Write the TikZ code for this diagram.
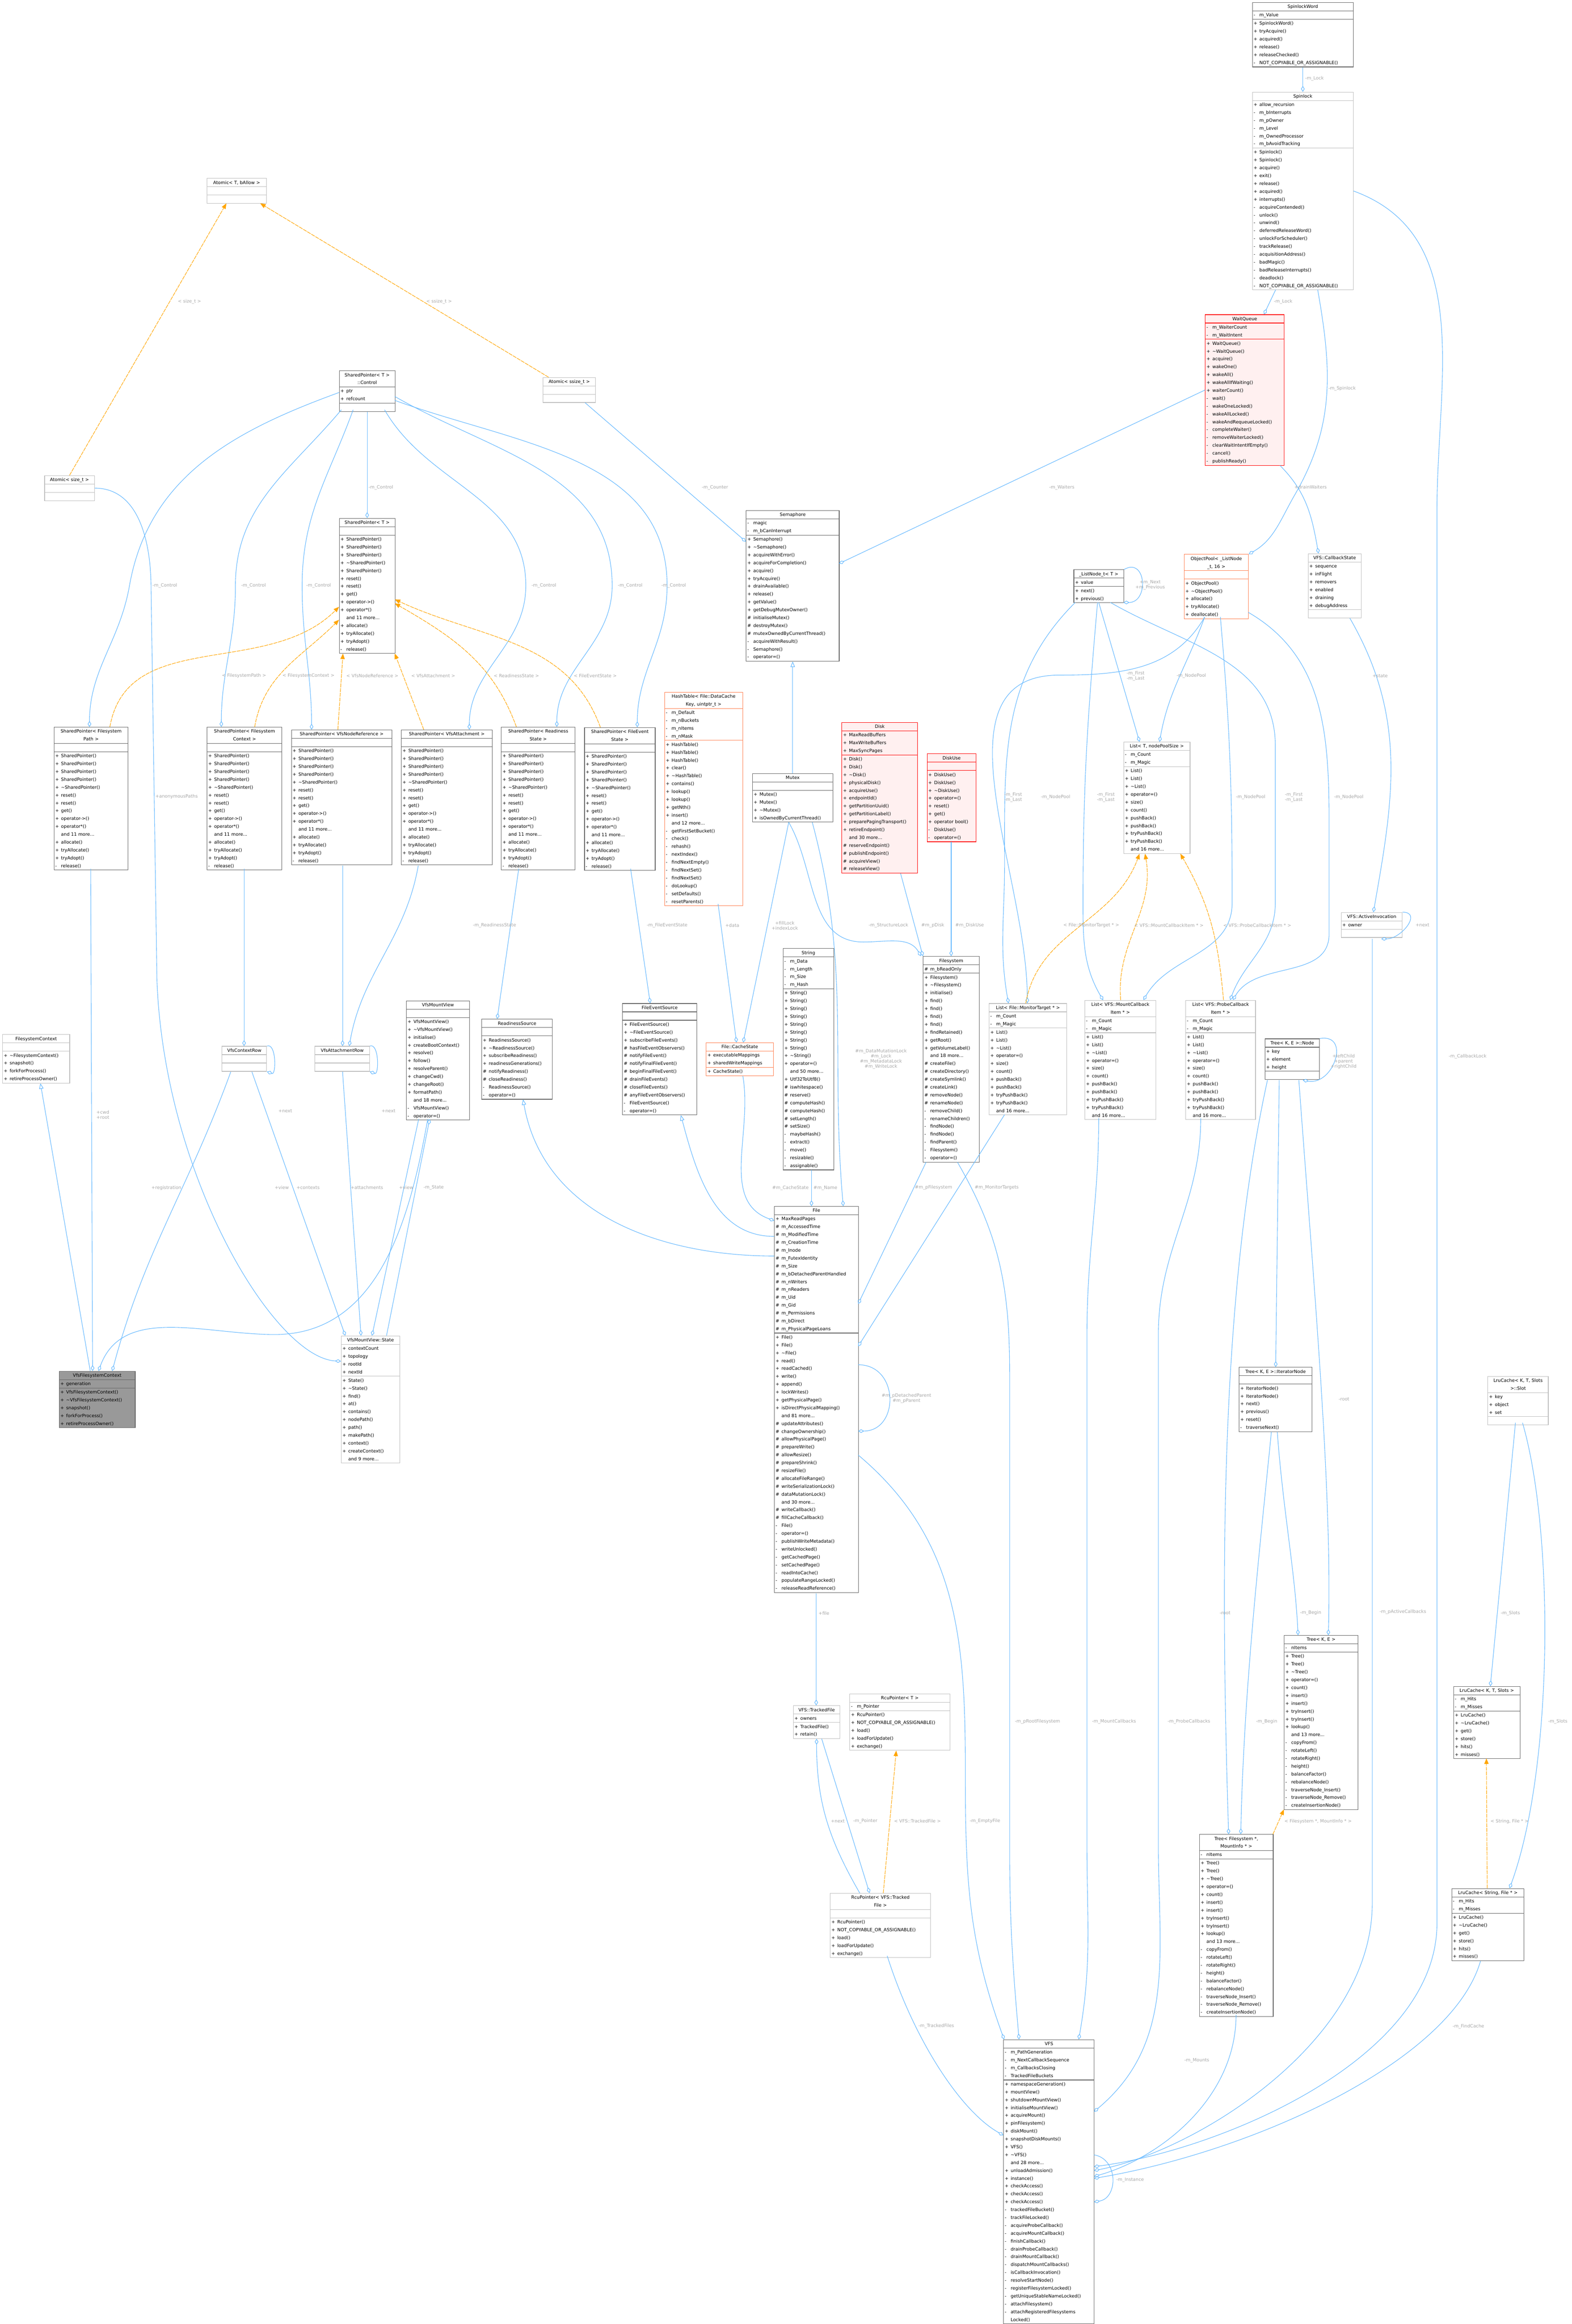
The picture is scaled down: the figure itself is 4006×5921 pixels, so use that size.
\documentclass[tikz,border=0pt]{standalone}
\usepackage{fontspec}
\setmainfont{DejaVu Sans}
\usetikzlibrary{shapes.multipart,arrows.meta,calc}
\definecolor{eb}{HTML}{63B8FF}
\definecolor{eo}{HTML}{FFA500}
\definecolor{lg}{HTML}{A8A8A8}
\definecolor{dk}{HTML}{666666}
\definecolor{lt}{HTML}{BFBFBF}
\definecolor{rf}{HTML}{FFF0F0}
\definecolor{oc}{HTML}{FF7F50}
\definecolor{gf}{HTML}{999999}
\newcommand\boxfont{\fontsize{11.5}{0}\selectfont\lineskip=0pt\lineskiplimit=0pt\parskip=0pt}
\newcommand\lblfont{\fontsize{11.5}{13}\selectfont}
\newcommand\rs{\rule[-6pt]{0pt}{20pt}}
\newcommand\mm[2]{\rs\makebox[15pt][l]{#1}#2\par}
\newcommand\tl[1]{\rs\hfill#1\hfill\null\par}
\newcommand\emp{\rs\par}
\newcommand\spm{\mm+{SharedPointer()}\mm+{SharedPointer()}\mm+{SharedPointer()}\mm+{SharedPointer()}\mm+{\textasciitilde SharedPointer()}\mm+{reset()}\mm+{reset()}\mm+{get()}\mm+{operator->()}\mm+{operator*()}\mm{}{and 11 more...}\mm+{allocate()}\mm+{tryAllocate()}\mm+{tryAdopt()}\mm-{release()}}
\newcommand\lsm{\mm+{List()}\mm+{List()}\mm+{\textasciitilde List()}\mm+{operator=()}\mm+{size()}\mm+{count()}\mm+{pushBack()}\mm+{pushBack()}\mm+{tryPushBack()}\mm+{tryPushBack()}\mm{}{and 16 more...}}
\newcommand\trm{\mm+{Tree()}\mm+{Tree()}\mm+{\textasciitilde Tree()}\mm+{operator=()}\mm+{count()}\mm+{insert()}\mm+{insert()}\mm+{tryInsert()}\mm+{tryInsert()}\mm+{lookup()}\mm{}{and 13 more...}\mm-{copyFrom()}\mm-{rotateLeft()}\mm-{rotateRight()}\mm-{height()}\mm-{balanceFactor()}\mm-{rebalanceNode()}\mm-{traverseNode\_Insert()}\mm-{traverseNode\_Remove()}\mm-{createInsertionNode()}}
\newcommand\lrm{\mm-{m\_Hits}\mm-{m\_Misses}\nodepart{three}\mm+{LruCache()}\mm+{\textasciitilde LruCache()}\mm+{get()}\mm+{store()}\mm+{hits()}\mm+{misses()}}
\newcommand\rcm{\mm+{RcuPointer()}\mm+{NOT\_COPYABLE\_OR\_ASSIGNABLE()}\mm+{load()}\mm+{loadForUpdate()}\mm+{exchange()}}
\tikzset{
 cls/.style={rectangle split,rectangle split parts=3,anchor=north west,inner xsep=3pt,inner ysep=0pt,
   text width=#1,align=left,font=\boxfont,line width=1.3pt,fill=white},
 dkb/.style={draw=dk},
 ltb/.style={draw=lt},
 rdb/.style={draw=red,fill=rf},
 orb/.style={draw=oc},
 grb/.style={draw=dk,fill=gf},
 agg/.style={draw=eb,line width=1.3pt,-{Diamond[open,length=15pt,width=9pt]}},
 inh/.style={draw=eb,line width=1.3pt,-{Triangle[open,length=14pt,width=11pt]}},
 tpl/.style={draw=eo,line width=1.3pt,dash pattern=on 10pt off 2pt,-{Triangle[length=14pt,width=11pt,fill=eo]}},
 lbl/.style={font=\lblfont,text=lg,align=center,inner sep=1pt},
}
\begin{document}
\begin{tikzpicture}[x=1pt,y=-1pt]
\useasboundingbox[fill=white] (0,0) rectangle (4006,5921);
% ---------------- classes
\node[cls=251,dkb] (spw) at (3191,6) {\tl{SpinlockWord}\nodepart{two}\mm-{m\_Value}\nodepart{three}\mm+{SpinlockWord()}\mm+{tryAcquire()}\mm+{acquired()}\mm+{release()}\mm+{releaseChecked()}\mm-{NOT\_COPYABLE\_OR\_ASSIGNABLE()}};
\node[cls=251,ltb] (spl) at (3191,234) {\tl{Spinlock}\nodepart{two}\mm+{allow\_recursion}\mm-{m\_bInterrupts}\mm-{m\_pOwner}\mm-{m\_Level}\mm-{m\_OwnedProcessor}\mm-{m\_bAvoidTracking}\nodepart{three}\mm+{Spinlock()}\mm+{Spinlock()}\mm+{acquire()}\mm+{exit()}\mm+{release()}\mm+{acquired()}\mm+{interrupts()}\mm-{acquireContended()}\mm-{unlock()}\mm-{unwind()}\mm-{deferredReleaseWord()}\mm-{unlockForScheduler()}\mm-{trackRelease()}\mm-{acquisitionAddress()}\mm-{badMagic()}\mm-{badReleaseInterrupts()}\mm-{deadlock()}\mm-{NOT\_COPYABLE\_OR\_ASSIGNABLE()}};
\node[cls=195,rdb] (wq) at (3071,801) {\tl{WaitQueue}\nodepart{two}\mm-{m\_WaiterCount}\mm-{m\_WaitIntent}\nodepart{three}\mm+{WaitQueue()}\mm+{\textasciitilde WaitQueue()}\mm+{acquire()}\mm+{wakeOne()}\mm+{wakeAll()}\mm+{wakeAllIfWaiting()}\mm+{waiterCount()}\mm-{wait()}\mm-{wakeOneLocked()}\mm-{wakeAllLocked()}\mm-{wakeAndRequeueLocked()}\mm-{completeWaiter()}\mm-{removeWaiterLocked()}\mm-{clearWaitIntentIfEmpty()}\mm-{cancel()}\mm-{publishReady()}};
\node[cls=145,ltb] (atb) at (527,454) {\tl{Atomic< T, bAllow >}\nodepart{two}\emp\nodepart{three}\emp};
\node[cls=121,ltb] (as) at (113,1211) {\tl{Atomic< size\_t >}\nodepart{two}\emp\nodepart{three}\emp};
\node[cls=128,ltb] (ass) at (1383,961) {\tl{Atomic< ssize\_t >}\nodepart{two}\emp\nodepart{three}\emp};
\node[cls=136,dkb] (ctl) at (864,944) {\tl{SharedPointer< T >}\tl{::Control}\nodepart{two}\mm+{ptr}\mm+{refcount}\nodepart{three}\emp};
\node[cls=136,dkb] (spt) at (864,1320) {\tl{SharedPointer< T >}\nodepart{two}\emp\nodepart{three}\mm+{SharedPointer()}\mm+{SharedPointer()}\mm+{SharedPointer()}\mm+{\textasciitilde SharedPointer()}\mm+{SharedPointer()}\mm+{reset()}\mm+{reset()}\mm+{get()}\mm+{operator->()}\mm+{operator*()}\mm{}{and 11 more...}\mm+{allocate()}\mm+{tryAllocate()}\mm+{tryAdopt()}\mm-{release()}};
\node[cls=183,dkb] (sp1) at (137,1852) {\tl{SharedPointer< Filesystem}\tl{Path >}\nodepart{two}\emp\nodepart{three}\spm};
\node[cls=185,dkb] (sp2) at (527,1852) {\tl{SharedPointer< Filesystem}\tl{Context >}\nodepart{two}\emp\nodepart{three}\spm};
\node[cls=250,dkb] (sp3) at (742,1859) {\tl{SharedPointer< VfsNodeReference >}\nodepart{two}\emp\nodepart{three}\spm};
\node[cls=226,dkb] (sp4) at (1022,1859) {\tl{SharedPointer< VfsAttachment >}\nodepart{two}\emp\nodepart{three}\spm};
\node[cls=182,dkb] (sp5) at (1277,1852) {\tl{SharedPointer< Readiness}\tl{State >}\nodepart{two}\emp\nodepart{three}\spm};
\node[cls=174,dkb] (sp6) at (1489,1853) {\tl{SharedPointer< FileEvent}\tl{State >}\nodepart{two}\emp\nodepart{three}\spm};
\node[cls=231,dkb] (sem) at (1901,1300) {\tl{Semaphore}\nodepart{two}\mm-{magic}\mm-{m\_bCanInterrupt}\nodepart{three}\mm+{Semaphore()}\mm+{\textasciitilde Semaphore()}\mm+{acquireWithError()}\mm+{acquireForCompletion()}\mm+{acquire()}\mm+{tryAcquire()}\mm+{drainAvailable()}\mm+{release()}\mm+{getValue()}\mm+{getDebugMutexOwner()}\mm\#{initialiseMutex()}\mm\#{destroyMutex()}\mm\#{mutexOwnedByCurrentThread()}\mm-{acquireWithResult()}\mm-{Semaphore()}\mm-{operator=()}};
\node[cls=199,dkb] (mtx) at (1917,1970) {\tl{Mutex}\nodepart{two}\emp\nodepart{three}\mm+{Mutex()}\mm+{Mutex()}\mm+{\textasciitilde Mutex()}\mm+{isOwnedByCurrentThread()}};
\node[cls=193,orb] (ht) at (1693,1763) {\tl{HashTable< File::DataCache}\tl{Key, uintptr\_t >}\nodepart{two}\mm-{m\_Default}\mm-{m\_nBuckets}\mm-{m\_nItems}\mm-{m\_nMask}\nodepart{three}\mm+{HashTable()}\mm+{HashTable()}\mm+{HashTable()}\mm+{clear()}\mm+{\textasciitilde HashTable()}\mm+{contains()}\mm+{lookup()}\mm+{lookup()}\mm+{getNth()}\mm+{insert()}\mm{}{and 12 more...}\mm-{getFirstSetBucket()}\mm-{check()}\mm-{rehash()}\mm-{nextIndex()}\mm-{findNextEmpty()}\mm-{findNextSet()}\mm-{findNextSet()}\mm-{doLookup()}\mm-{setDefaults()}\mm-{resetParents()}};
\node[cls=187,rdb] (dsk) at (2145,1840) {\tl{Disk}\nodepart{two}\mm+{MaxReadBuffers}\mm+{MaxWriteBuffers}\mm+{MaxSyncPages}\nodepart{three}\mm+{Disk()}\mm+{Disk()}\mm+{\textasciitilde Disk()}\mm+{physicalDisk()}\mm+{acquireUse()}\mm+{endpointId()}\mm+{getPartitionUuid()}\mm+{getPartitionLabel()}\mm+{preparePagingTransport()}\mm+{retireEndpoint()}\mm{}{and 30 more...}\mm\#{reserveEndpoint()}\mm\#{publishEndpoint()}\mm\#{acquireView()}\mm\#{releaseView()}};
\node[cls=119,rdb] (du) at (2362,1920) {\tl{DiskUse}\nodepart{two}\emp\nodepart{three}\mm+{DiskUse()}\mm+{DiskUse()}\mm+{\textasciitilde DiskUse()}\mm+{operator=()}\mm+{reset()}\mm+{get()}\mm+{operator bool()}\mm-{DiskUse()}\mm-{operator=()}};
\node[cls=121,dkb] (ln) at (2736,1451) {\tl{\_ListNode\_t< T >}\nodepart{two}\mm+{value}\nodepart{three}\mm+{next()}\mm+{previous()}};
\node[cls=158,orb] (op) at (3017,1412) {\tl{ObjectPool< \_ListNode}\tl{\_t, 16 >}\nodepart{two}\emp\nodepart{three}\mm+{ObjectPool()}\mm+{\textasciitilde ObjectPool()}\mm+{allocate()}\mm+{tryAllocate()}\mm+{deallocate()}};
\node[cls=129,ltb] (cbs) at (3333,1410) {\tl{VFS::CallbackState}\nodepart{two}\mm+{sequence}\mm+{inFlight}\mm+{removers}\mm+{enabled}\mm+{draining}\mm+{debugAddress}\nodepart{three}\emp};
\node[cls=163,ltb] (lt) at (2863,1890) {\tl{List< T, nodePoolSize >}\nodepart{two}\mm-{m\_Count}\mm-{m\_Magic}\nodepart{three}\lsm};
\node[cls=192,ltb] (lm) at (2520,2556) {\tl{List< File::MonitorTarget * >}\nodepart{two}\mm-{m\_Count}\mm-{m\_Magic}\nodepart{three}\lsm};
\node[cls=175,ltb] (lmc) at (2764,2548) {\tl{List< VFS::MountCallback}\tl{Item * >}\nodepart{two}\mm-{m\_Count}\mm-{m\_Magic}\nodepart{three}\lsm};
\node[cls=172,ltb] (lpc) at (3021,2548) {\tl{List< VFS::ProbeCallback}\tl{Item * >}\nodepart{two}\mm-{m\_Count}\mm-{m\_Magic}\nodepart{three}\lsm};
\node[cls=133,dkb] (tn) at (3223,2646) {\tl{Tree< K, E >::Node}\nodepart{two}\mm+{key}\mm+{element}\mm+{height}\nodepart{three}\emp};
\node[cls=150,ltb] (ai) at (3417,2324) {\tl{VFS::ActiveInvocation}\nodepart{two}\mm+{owner}\nodepart{three}\emp};
\node[cls=123,dkb] (str) at (1995,2416) {\tl{String}\nodepart{two}\mm-{m\_Data}\mm-{m\_Length}\mm-{m\_Size}\mm-{m\_Hash}\nodepart{three}\mm+{String()}\mm+{String()}\mm+{String()}\mm+{String()}\mm+{String()}\mm+{String()}\mm+{String()}\mm+{String()}\mm+{\textasciitilde String()}\mm+{operator=()}\mm{}{and 50 more...}\mm+{Utf32ToUtf8()}\mm\#{iswhitespace()}\mm\#{reserve()}\mm\#{computeHash()}\mm\#{computeHash()}\mm\#{setLength()}\mm\#{setSize()}\mm-{maybeHash()}\mm-{extract()}\mm-{move()}\mm-{resizable()}\mm-{assignable()}};
\node[cls=137,dkb] (fs) at (2352,2436) {\tl{Filesystem}\nodepart{two}\mm\#{m\_bReadOnly}\nodepart{three}\mm+{Filesystem()}\mm+{\textasciitilde Filesystem()}\mm+{initialise()}\mm+{find()}\mm+{find()}\mm+{find()}\mm+{find()}\mm+{findRetained()}\mm+{getRoot()}\mm+{getVolumeLabel()}\mm{}{and 18 more...}\mm\#{createFile()}\mm\#{createDirectory()}\mm\#{createSymlink()}\mm\#{createLink()}\mm\#{removeNode()}\mm\#{renameNode()}\mm-{removeChild()}\mm-{renameChildren()}\mm-{findNode()}\mm-{findNode()}\mm-{findParent()}\mm-{Filesystem()}\mm-{operator=()}};
\node[cls=183,dkb] (fes) at (1586,2556) {\tl{FileEventSource}\nodepart{two}\emp\nodepart{three}\mm+{FileEventSource()}\mm+{\textasciitilde FileEventSource()}\mm+{subscribeFileEvents()}\mm\#{hasFileEventObservers()}\mm\#{notifyFileEvent()}\mm\#{notifyFinalFileEvent()}\mm\#{beginFinalFileEvent()}\mm\#{drainFileEvents()}\mm\#{closeFileEvents()}\mm\#{anyFileEventObservers()}\mm-{FileEventSource()}\mm-{operator=()}};
\node[cls=165,orb] (cs) at (1799,2656) {\tl{File::CacheState}\nodepart{two}\mm+{executableMappings}\mm+{sharedWriteMappings}\nodepart{three}\mm+{CacheState()}};
\node[cls=174,dkb] (rsrc) at (1227,2596) {\tl{ReadinessSource}\nodepart{two}\emp\nodepart{three}\mm+{ReadinessSource()}\mm+{\textasciitilde ReadinessSource()}\mm+{subscribeReadiness()}\mm+{readinessGenerations()}\mm\#{notifyReadiness()}\mm\#{closeReadiness()}\mm-{ReadinessSource()}\mm-{operator=()}};
\node[cls=155,dkb] (vmv) at (1035,2549) {\tl{VfsMountView}\nodepart{two}\emp\nodepart{three}\mm+{VfsMountView()}\mm+{\textasciitilde VfsMountView()}\mm+{initialise()}\mm+{createBootContext()}\mm+{resolve()}\mm+{follow()}\mm+{resolveParent()}\mm+{changeCwd()}\mm+{changeRoot()}\mm+{formatPath()}\mm{}{and 18 more...}\mm-{VfsMountView()}\mm-{operator=()}};
\node[cls=108,ltb] (vcr) at (565,2665) {\tl{VfsContextRow}\nodepart{two}\emp\nodepart{three}\emp};
\node[cls=133,ltb] (var) at (802,2665) {\tl{VfsAttachmentRow}\nodepart{two}\emp\nodepart{three}\emp};
\node[cls=165,ltb] (fsc) at (6,2635) {\tl{FilesystemContext}\nodepart{two}\emp\nodepart{three}\mm+{\textasciitilde FilesystemContext()}\mm+{snapshot()}\mm+{forkForProcess()}\mm+{retireProcessOwner()}};
\node[cls=188,grb] (vfc) at (150,3493) {\tl{VfsFilesystemContext}\nodepart{two}\mm+{generation}\nodepart{three}\mm+{VfsFilesystemContext()}\mm+{\textasciitilde VfsFilesystemContext()}\mm+{snapshot()}\mm+{forkForProcess()}\mm+{retireProcessOwner()}};
\node[cls=143,ltb] (st) at (869,3403) {\tl{VfsMountView::State}\nodepart{two}\mm+{contextCount}\mm+{topology}\mm+{rootId}\mm+{nextId}\nodepart{three}\mm+{State()}\mm+{\textasciitilde State()}\mm+{find()}\mm+{at()}\mm+{contains()}\mm+{nodePath()}\mm+{path()}\mm+{makePath()}\mm+{context()}\mm+{createContext()}\mm{}{and 9 more...}};
\node[cls=208,dkb] (fil) at (1973,3073) {\tl{File}\nodepart{two}\mm+{MaxReadPages}\mm\#{m\_AccessedTime}\mm\#{m\_ModifiedTime}\mm\#{m\_CreationTime}\mm\#{m\_Inode}\mm\#{m\_FutexIdentity}\mm\#{m\_Size}\mm\#{m\_bDetachedParentHandled}\mm\#{m\_nWriters}\mm\#{m\_nReaders}\mm\#{m\_Uid}\mm\#{m\_Gid}\mm\#{m\_Permissions}\mm\#{m\_bDirect}\mm\#{m\_PhysicalPageLoans}\nodepart{three}\mm+{File()}\mm+{File()}\mm+{\textasciitilde File()}\mm+{read()}\mm+{readCached()}\mm+{write()}\mm+{append()}\mm+{lockWrites()}\mm+{getPhysicalPage()}\mm+{isDirectPhysicalMapping()}\mm{}{and 81 more...}\mm\#{updateAttributes()}\mm\#{changeOwnership()}\mm\#{allowPhysicalPage()}\mm\#{prepareWrite()}\mm\#{allowResize()}\mm\#{prepareShrink()}\mm\#{resizeFile()}\mm\#{allocateFileRange()}\mm\#{writeSerializationLock()}\mm\#{dataMutationLock()}\mm{}{and 30 more...}\mm\#{writeCallback()}\mm\#{fillCacheCallback()}\mm-{File()}\mm-{operator=()}\mm-{publishWriteMetadata()}\mm-{writeUnlocked()}\mm-{getCachedPage()}\mm-{setCachedPage()}\mm-{readIntoCache()}\mm-{populateRangeLocked()}\mm-{releaseReadReference()}};
\node[cls=113,ltb] (tf) at (2021,4345) {\tl{VFS::TrackedFile}\nodepart{two}\mm+{owners}\nodepart{three}\mm+{TrackedFile()}\mm+{retain()}};
\node[cls=249,ltb] (rp) at (2165,4315) {\tl{RcuPointer< T >}\nodepart{two}\mm-{m\_Pointer}\nodepart{three}\rcm};
\node[cls=250,ltb] (rptf) at (2115,4823) {\tl{RcuPointer< VFS::Tracked}\tl{File >}\nodepart{two}\emp\nodepart{three}\rcm};
\node[cls=225,dkb] (vfs) at (2557,5196) {\tl{VFS}\nodepart{two}\mm-{m\_PathGeneration}\mm-{m\_NextCallbackSequence}\mm-{m\_CallbacksClosing}\mm-{TrackedFileBuckets}\nodepart{three}\mm+{namespaceGeneration()}\mm+{mountView()}\mm+{shutdownMountView()}\mm+{initialiseMountView()}\mm+{acquireMount()}\mm+{pinFilesystem()}\mm+{diskMount()}\mm+{snapshotDiskMounts()}\mm+{VFS()}\mm+{\textasciitilde VFS()}\mm{}{and 28 more...}\mm+{unloadAdmission()}\mm+{instance()}\mm+{checkAccess()}\mm+{checkAccess()}\mm+{checkAccess()}\mm-{trackedFileBucket()}\mm-{trackFileLocked()}\mm-{acquireProbeCallback()}\mm-{acquireMountCallback()}\mm-{finishCallback()}\mm-{drainProbeCallback()}\mm-{drainMountCallback()}\mm-{dispatchMountCallbacks()}\mm-{isCallbackInvocation()}\mm-{resolveStartNode()}\mm-{registerFilesystemLocked()}\mm-{getUniqueStableNameLocked()}\mm-{attachFilesystem()}\mm-{attachRegisteredFilesystems}\mm{}{Locked()}};
\node[cls=180,dkb] (ti) at (3157,3483) {\tl{Tree< K, E >::IteratorNode}\nodepart{two}\emp\nodepart{three}\mm+{IteratorNode()}\mm+{IteratorNode()}\mm+{next()}\mm+{previous()}\mm+{reset()}\mm-{traverseNext()}};
\node[cls=182,dkb] (tke) at (3272,4166) {\tl{Tree< K, E >}\nodepart{two}\mm-{nItems}\nodepart{three}\trm};
\node[cls=182,dkb] (tfm) at (3056,4673) {\tl{Tree< Filesystem *,}\tl{MountInfo * >}\nodepart{two}\mm-{nItems}\nodepart{three}\trm};
\node[cls=148,ltb] (slot) at (3791,3506) {\tl{LruCache< K, T, Slots}\tl{>::Slot}\nodepart{two}\mm+{key}\mm+{object}\mm+{set}\nodepart{three}\emp};
\node[cls=163,dkb] (lk) at (3704,4296) {\tl{LruCache< K, T, Slots >}\nodepart{two}\lrm};
\node[cls=178,dkb] (ls) at (3699,4811) {\tl{LruCache< String, File * >}\nodepart{two}\lrm};
% ---------------- connectors
\draw[agg] (spw.south) -- (spl.north);
\node[lbl,anchor=west] (L1) at (3325,200) {-m\_Lock};
\draw[agg] (3251,738) -- (3221,801);
\node[lbl,anchor=west] (L2) at (3245,768) {-m\_Lock};
\draw[agg] (3358,738) to[out=-80,in=60] (3300,1260) to[out=-120,in=30] (op.north east);
\node[lbl] (L3) at (3420,990) {-m\_Spinlock};
\draw[agg] (3262,1186) to[out=-45,in=100] (3360,1410);
\node[lbl] (L4) at (3340,1241) {+drainWaiters};
\draw[agg] (wq.west) -- (2138,1436);
\node[lbl] (L5) at (2706,1242) {-m\_Waiters};
\draw[agg] (spl.east) to[out=-20,in=90] (3662,1300) -- (3662,4900) .. controls (3662,5250) and (3100,5480) .. (2788,5520);
\node[lbl] (L6) at (3740,2692) {-m\_CallbackLock};
\draw[tpl] (as.north) -- (577,518);
\node[lbl] (L7) at (483,769) {< size\_t >};
\draw[tpl] (1398,961) -- (663,518);
\node[lbl] (L8) at (1119,769) {< ssize\_t >};
\draw[agg] (1491,1026) -- (1901,1380);
\node[lbl] (L9) at (1822,1242) {-m\_Counter};
\draw[agg] (ctl.south) -- (spt.north);
\node[lbl,anchor=west] (L10) at (938,1242) {-m\_Control};
\draw[agg] (864,1000) to[out=200,in=80] (330,1492) to[out=-100,in=90] (228,1852);
\node[lbl] (L11) at (420,1492) {-m\_Control};
\draw[agg] (870,1044) to[out=-130,in=90] (600,1492) to[out=-90,in=90] (564,1852);
\node[lbl] (L12) at (646,1492) {-m\_Control};
\draw[agg] (900,1044) to[out=-110,in=90] (770,1492) to[out=-90,in=90] (794,1859);
\node[lbl] (L13) at (812,1492) {-m\_Control};
\draw[agg] (980,1044) to[out=-60,in=90] (1340,1492) to[out=-90,in=90] (1196,1859);
\node[lbl] (L14) at (1386,1492) {-m\_Control};
\draw[agg] (1006,1010) to[out=-30,in=90] (1560,1492) to[out=-90,in=90] (1419,1852);
\node[lbl] (L15) at (1606,1492) {-m\_Control};
\draw[agg] (1006,1020) to[out=-20,in=90] (1700,1492) to[out=-90,in=90] (1624,1853);
\node[lbl] (L16) at (1717,1492) {-m\_Control};
\draw[tpl] (280,1852) to[out=80,in=-135] (864,1546);
\draw[tpl] (649,1852) to[out=80,in=-135] (864,1579);
\draw[tpl] (861,1859) -- (874,1665);
\draw[tpl] (1080,1859) -- (1006,1665);
\draw[tpl] (1316,1852) to[out=110,in=-30] (1006,1537);
\draw[tpl] (1530,1853) to[out=110,in=-25] (1006,1527);
\node[lbl] (L17) at (622,1722) {< FilesystemPath >};
\node[lbl] (L18) at (786,1722) {< FilesystemContext >};
\node[lbl] (L19) at (949,1722) {< VfsNodeReference >};
\node[lbl] (L20) at (1104,1722) {< VfsAttachment >};
\node[lbl] (L21) at (1316,1722) {< ReadinessState >};
\node[lbl] (L22) at (1517,1722) {< FileEventState >};
\draw[agg] (231,2213) -- (236,3493);
\node[lbl] (L23) at (262,2840) {+cwd\\+root};
\draw[agg] (622,2213) -- (622,2665);
\draw[agg] (873,2205) -- (873,2665);
\draw[agg] (1066,2205) to[out=-100,in=80] (890,2665);
\draw[agg] (vcr.north east) to[out=20,in=-20] (vcr.south east);
\node[lbl] (L24) at (727,2830) {+next};
\draw[agg] (var.north east) to[out=20,in=-20] (var.south east);
\node[lbl] (L25) at (990,2830) {+next};
\draw[agg] (1322,2213) -- (1267,2596);
\node[lbl] (L26) at (1260,2358) {-m\_ReadinessState};
\draw[agg] (1607,2213) -- (1657,2556);
\node[lbl] (L27) at (1700,2358) {-m\_FileEventState};
\draw[agg] (588,2731) to[out=-110,in=75] (286,3493);
\node[lbl] (L28) at (424,3026) {+registration};
\draw[agg] (642,2731) -- (880,3403);
\node[lbl] (L29) at (785,3026) {+contexts};
\draw[agg] (873,2731) -- (920,3403);
\node[lbl] (L30) at (935,3026) {+attachments};
\draw[agg] (1067,2851) -- (948,3403);
\node[lbl] (L31) at (1035,3026) {+view};
\draw[agg] (985,3403) -- (1095,2851);
\node[lbl] (L32) at (1105,3026) {-m\_State};
\draw[agg] (1090,2851) to[out=-100,in=0] (700,3400) to[out=180,in=70] (251,3493);
\node[lbl] (L33) at (718,3026) {+view};
\draw[agg] (as.east) to[out=0,in=90] (385,1500) -- (400,2500) .. controls (420,3000) and (700,3460) .. (869,3468);
\node[lbl] (L34) at (450,2030) {+anonymousPaths};
\draw[inh] (230,3493) -- (103,2760);
\draw[inh] (1973,3200) to[out=180,in=-80] (1333,2801);
\draw[inh] (1973,3150) to[out=180,in=-75] (1735,2841);
\draw[inh] (mtx.north) -- (sem.south);
\draw[agg] (2070,2095) to[out=-75,in=95] (2149,3073);
\node[lbl] (L35) at (2245,2698) {\#m\_DataMutationLock\\\#m\_Lock\\\#m\_MetadataLock\\\#m\_WriteLock};
\draw[agg] (2068,2981) -- (2068,3073);
\node[lbl,anchor=west] (L36) at (2072,3027) {\#m\_Name};
\draw[agg] (1893,2741) to[out=-80,in=160] (1973,3110);
\node[lbl,anchor=east] (L37) at (2062,3027) {\#m\_CacheState};
\draw[agg] (1830,2303) -- (1877,2656);
\node[lbl] (L38) at (1866,2358) {+data};
\draw[agg] (2010,2095) -- (1894,2656);
\node[lbl] (L39) at (2000,2358) {+fillLock\\+indexLock};
\draw[agg] (2010,2095) to[out=-60,in=180] (2200,2400) to[out=0,in=120] (2347,2436);
\node[lbl] (L40) at (2264,2358) {-m\_StructureLock};
\draw[agg] (2295,2225) -- (2352,2436);
\node[lbl] (L41) at (2377,2358) {\#m\_pDisk};
\draw[agg] (2424,2145) -- (2424,2436);
\node[lbl] (L42) at (2471,2358) {\#m\_DiskUse};
\draw[agg] (2360,2961) -- (2187,3322);
\node[lbl] (L43) at (2379,3026) {\#m\_pFilesystem};
\draw[agg] (2560,2840) -- (2187,3430);
\node[lbl] (L44) at (2540,3026) {\#m\_MonitorTargets};
\draw[agg] (2187,3477) to[out=0,in=0,looseness=1.6] (2187,3646);
\node[lbl] (L45) at (2310,3562) {\#m\_pDetachedParent\\\#m\_pParent};
\draw[agg] (2080,4059) -- (2080,4345);
\node[lbl,anchor=west] (L46) at (2085,4110) {+file};
\draw[agg] (2187,3707) to[out=-40,in=90] (2460,4500) to[out=-90,in=110] (2559,5196);
\node[lbl] (L47) at (2510,4640) {-m\_EmptyFile};
\draw[agg] (2440,2961) to[out=-60,in=90] (2573,3500) -- (2573,4700) to[out=-90,in=95] (2597,5196);
\node[lbl] (L48) at (2644,4386) {-m\_pRootFilesystem};
\draw[agg] (2800,2849) to[out=-90,in=90] (2770,3400) -- (2770,4700) to[out=-90,in=80] (2749,5196);
\node[lbl] (L49) at (2839,4386) {-m\_MountCallbacks};
\draw[agg] (3060,2849) to[out=-90,in=90] (2952,3400) -- (2952,4700) to[out=-90,in=40] (2788,5380);
\node[lbl] (L50) at (3030,4386) {-m\_ProbeCallbacks};
\draw[agg] (ln.north east) to[out=30,in=0,looseness=2] (2863,1535);
\node[lbl] (L51) at (2931,1490) {+m\_Next\\+m\_Previous};
\draw[agg] (2800,1535) -- (2904,1890);
\node[lbl] (L52) at (2894,1722) {-m\_First\\-m\_Last};
\draw[agg] (3070,1572) to[out=-110,in=80] (2955,1890);
\node[lbl] (L53) at (3036,1722) {-m\_NodePool};
\draw[agg] (2740,1535) to[out=-135,in=90] (2560,2200) to[out=-90,in=100] (2570,2556);
\node[lbl] (L54) at (2582,2031) {-m\_First\\-m\_Last};
\draw[agg] (3070,1572) to[out=-120,in=0] (2700,1720) to[out=180,in=90] (2618,2556);
\node[lbl] (L55) at (2690,2031) {-m\_NodePool};
\draw[agg] (2797,1535) to[out=-95,in=90] (2760,2300) to[out=-90,in=120] (2811,2548);
\node[lbl] (L56) at (2818,2031) {-m\_First\\-m\_Last};
\draw[agg] (3110,1572) to[out=-85,in=90] (3140,2300) to[out=-90,in=60] (2914,2548);
\node[lbl] (L57) at (3187,2031) {-m\_NodePool};
\draw[agg] (2830,1535) to[out=-30,in=90] (3250,1900) -- (3250,2300) to[out=-90,in=70] (3135,2548);
\node[lbl] (L58) at (3297,2031) {-m\_First\\-m\_Last};
\draw[agg] (3181,1560) to[out=-30,in=90] (3387,2100) -- (3387,2380) to[out=-90,in=60] (3142,2548);
\node[lbl] (L59) at (3437,2031) {-m\_NodePool};
\draw[tpl] (2614,2556) to[out=80,in=-110] (2904,2175);
\draw[tpl] (2856,2548) to[out=95,in=-80] (2918,2175);
\draw[tpl] (3118,2548) to[out=95,in=-60] (3008,2175);
\node[lbl] (L60) at (2781,2358) {< File::MonitorTarget * >};
\node[lbl] (L61) at (2979,2358) {< VFS::MountCallbackItem * >};
\node[lbl] (L62) at (3204,2358) {< VFS::ProbeCallbackItem * >};
\draw[agg] (3440,1575) to[out=-60,in=80] (3500,2324);
\node[lbl] (L63) at (3517,1722) {+state};
\draw[agg] (ai.north east) to[out=0,in=0,looseness=1.5] (3520,2392);
\node[lbl] (L64) at (3625,2357) {+next};
\draw[agg] (3497,2392) -- (3497,4850) .. controls (3497,5200) and (3050,5480) .. (2788,5530);
\node[lbl] (L65) at (3575,4107) {-m\_pActiveCallbacks};
\draw[agg] (tn.north east) to[out=10,in=-10,looseness=1.8] (3320,2752);
\node[lbl] (L66) at (3424,2705) {+leftChild\\+parent\\+rightChild};
\draw[agg] (3260,2752) -- (3251,3483);
\draw[agg] (3310,2752) .. controls (3350,3300) and (3395,3800) .. (3385,4166);
\node[lbl] (L67) at (3425,3564) {-root};
\draw[agg] (3230,2752) .. controls (3110,3300) and (3110,4000) .. (3131,4673);
\node[lbl] (L68) at (3122,4109) {-root};
\draw[agg] (3255,3648) .. controls (3270,3850) and (3300,4000) .. (3308,4166);
\node[lbl] (L69) at (3340,4109) {-m\_Begin};
\draw[agg] (3240,3648) .. controls (3210,3950) and (3170,4300) .. (3162,4673);
\node[lbl] (L70) at (3228,4386) {-m\_Begin};
\draw[tpl] (3244,4673) -- (3272,4610);
\node[lbl] (L71) at (3359,4641) {< Filesystem *, MountInfo * >};
\draw[agg] (3150,5133) .. controls (3150,5350) and (2950,5500) .. (2788,5545);
\node[lbl] (L72) at (3050,5250) {-m\_Mounts};
\draw[agg] (3862,3625) -- (3798,4296);
\node[lbl] (L73) at (3849,4110) {-m\_Slots};
\draw[agg] (3880,3625) .. controls (3960,3900) and (3960,4500) .. (3847,4811);
\node[lbl] (L74) at (3970,4386) {-m\_Slots};
\draw[tpl] (3790,4811) -- (3788,4480);
\node[lbl] (L75) at (3847,4641) {< String, File * >};
\draw[agg] (3773,4996) .. controls (3700,5250) and (3200,5480) .. (2788,5550);
\node[lbl] (L76) at (3742,5163) {-m\_FindCache};
\draw[agg] (2788,5490) .. controls (2850,5500) and (2850,5600) .. (2788,5610);
\node[lbl] (L77) at (2880,5554) {-m\_Instance};
\draw[agg] (2191,4823) to[out=120,in=-90] (2081,4430);
\node[lbl] (L78) at (2135,4640) {+next};
\draw[agg] (2094,4430) -- (2216,4823);
\node[lbl] (L79) at (2205,4640) {-m\_Pointer};
\draw[tpl] (2251,4823) -- (2284,4460);
\node[lbl] (L80) at (2338,4640) {< VFS::TrackedFile >};
\draw[agg] (2261,4983) .. controls (2330,5200) and (2450,5380) .. (2557,5440);
\node[lbl] (L81) at (2386,5162) {-m\_TrackedFiles};
\end{tikzpicture}
\end{document}
